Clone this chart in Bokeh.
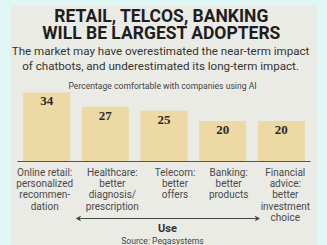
from bokeh.plotting import figure
from bokeh.models import ColumnDataSource, Range1d, FactorRange, Label, LabelSet, Arrow, VeeHead, GlobalInlineStyleSheet
from bokeh.embed import file_html
from bokeh.resources import INLINE

# ---- data ----
categories = ["Online retail", "Healthcare", "Telecom", "Banking", "Financial advice"]
values = [34, 27, 25, 20, 20]
category_labels = [
    "Online retail:\npersonalized\nrecommen-\ndation",
    "Healthcare:\nbetter\ndiagnosis/\nprescription",
    "Telecom:\nbetter\noffers",
    "Banking:\nbetter\nproducts",
    "Financial\nadvice:\nbetter\ninvestment\nchoice",
]
title_lines = ["RETAIL, TELCOS, BANKING", "WILL BE LARGEST ADOPTERS"]
subtitle_lines = ["The market may have overestimated the near-term impact",
                  "of chatbots, and underestimated its long-term impact."]
caption = "Percentage comfortable with companies using AI"
axis_title = "Use"
source_note = "Source: Pegasystems"

# ---- style ----
PANEL = "#ebebe6"
CYAN = "#dff6f5"
BAR = "#ecd9a3"
DARK = "#2b2b2b"
GREY = "#4a4a4a"
FONT = "Roboto"

W, H = 317, 245
ML, MT = 10, 5
baseline_sy = 161          # pixel row of the bar baseline
ppu = 2.03                 # pixels per percentage point
HALF = 0.0585              # categorical padding each side
frame_w = W - ML
ppx = frame_w / (len(categories) + 2 * HALF)

y_top = (baseline_sy - MT) / ppu
y_bot = (baseline_sy - H) / ppu

def ydata(sy):
    return (baseline_sy - sy) / ppu

def xdata(sx):
    return (sx - ML) / ppx - HALF

p = figure(width=W, height=H,
           x_range=FactorRange(*categories, range_padding=2 * HALF, range_padding_units="absolute"),
           y_range=Range1d(y_bot, y_top), output_backend="svg", toolbar_location=None,
           x_axis_location=None, y_axis_location=None,
           min_border_left=ML, min_border_right=0, min_border_top=MT, min_border_bottom=0)
p.stylesheets = [GlobalInlineStyleSheet(css=f"body{{background:{CYAN};}}")]
p.background_fill_color = PANEL
p.border_fill_color = CYAN
p.outline_line_color = None
p.grid.visible = False

src = ColumnDataSource(dict(cat=categories, val=values, txt=[str(v) for v in values]))
p.vbar(x="cat", top="val", width=0.8, source=src, fill_color=BAR, line_color=None)
p.add_layout(LabelSet(x="cat", y="val", text="txt", source=src, y_offset=-9,
                      text_align="center", text_baseline="middle",
                      text_font=FONT, text_font_style="bold", text_font_size="13px",
                      text_color=DARK))

# baseline under the bars
p.segment(x0=[0], x1=[len(categories)], y0=[0], y1=[0], line_color="#555555", line_width=1)

def lab(text, sx, sy, size, style="normal", color=DARK, baseline="middle", lh=1.2, xoff=0):
    p.add_layout(Label(x=xdata(sx), y=ydata(sy), text=text, text_align="center",
                       text_baseline=baseline, text_font=FONT, text_font_size=size,
                       text_font_style=style, text_color=color, text_line_height=lh,
                       x_offset=xoff))

lab(title_lines[0], 161, 15, "17.5px", "bold", "#1e1e1e")
lab(title_lines[1], 161, 32, "17.5px", "bold", "#1e1e1e")
lab(subtitle_lines[0], 160, 50, "11.6px", color="#333333")
lab(subtitle_lines[1], 160, 65, "11.6px", color="#333333")
lab(caption, 162, 85, "8.6px", color="#444444")

xoffs = [-2, 7, 11, 6, 4]
for i, t in enumerate(category_labels):
    p.add_layout(Label(x=i + 0.5, y=ydata(166), text=t, text_align="center",
                       text_baseline="top", text_font=FONT, text_font_size="10px",
                       text_color=GREY, text_line_height=1.04, x_offset=xoffs[i]))

p.add_layout(Arrow(x_start=xdata(74), y_start=ydata(218), x_end=xdata(261), y_end=ydata(218),
                   line_color="#444444", line_width=1,
                   start=VeeHead(size=4, line_color="#444444", fill_color="#444444"),
                   end=VeeHead(size=4, line_color="#444444", fill_color="#444444")))
lab(axis_title, 167, 228, "11px", "bold", "#333333")
lab(source_note, 162, 240, "8.6px", color="#444444")

open("out.html", "w").write(file_html(p, INLINE))
